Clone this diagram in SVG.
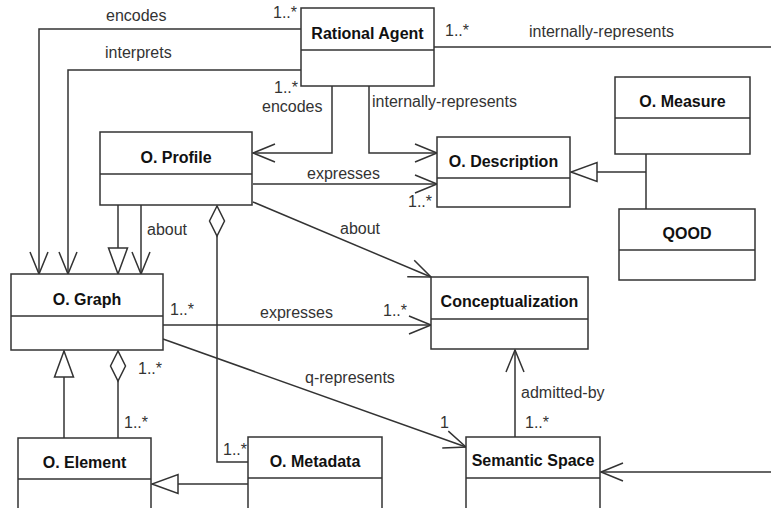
<svg xmlns="http://www.w3.org/2000/svg" width="771" height="508" viewBox="0 0 771 508">
<style>
.box{fill:#fff;stroke:#333;stroke-width:1.5}
.div{stroke:#333;stroke-width:1.5}
.title{font-family:"Liberation Sans",Arial,sans-serif;font-size:16px;font-weight:bold;fill:#111;text-anchor:middle}
.lbl{font-family:"Liberation Sans",Arial,sans-serif;font-size:16px;fill:#333}
.c{fill:none;stroke:#333;stroke-width:1.5}
</style>
<defs>
<marker id="open" viewBox="-24 -12 26 24" refX="0" refY="0" markerWidth="26" markerHeight="24" orient="auto" markerUnits="userSpaceOnUse">
<path d="M-22,-9 L0,0 L-22,9" fill="none" stroke="#333" stroke-width="1.5"/>
</marker>
<marker id="tri" viewBox="-28 -12 30 24" refX="0" refY="0" markerWidth="30" markerHeight="24" orient="auto" markerUnits="userSpaceOnUse">
<path d="M0,0 L-26,-9.5 L-26,9.5 Z" fill="#fff" stroke="#333" stroke-width="1.5"/>
</marker>
<marker id="dia" viewBox="-33 -10 35 20" refX="0" refY="0" markerWidth="35" markerHeight="20" orient="auto" markerUnits="userSpaceOnUse">
<path d="M0,0 L-15,-7.5 L-30,0 L-15,7.5 Z" fill="#fff" stroke="#333" stroke-width="1.5"/>
</marker>
</defs>
<rect width="771" height="508" fill="#fff"/>
<g id="connectors">
<path class="c" d="M301,29 L39,29 L39,274" marker-end="url(#open)"/>
<path class="c" d="M301,70 L68,70 L68,274" marker-end="url(#open)"/>
<path class="c" d="M332,86 L332,153 L253,153" marker-end="url(#open)"/>
<path class="c" d="M369,86 L369,153 L437,153" marker-end="url(#open)"/>
<path class="c" d="M434,47 L771,47"/>
<path class="c" d="M253,184 L437,184" marker-end="url(#open)"/>
<path class="c" d="M253,202 L431,277" marker-end="url(#open)"/>
<path class="c" d="M118,205 L118,274" marker-end="url(#tri)"/>
<path class="c" d="M141,205 L141,274" marker-end="url(#open)"/>
<path class="c" d="M248,462 L217,462 L217,206" marker-end="url(#dia)"/>
<path class="c" d="M646,154 L646,209"/>
<path class="c" d="M646,172 L571,172" marker-end="url(#tri)"/>
<path class="c" d="M163,325 L431,325" marker-end="url(#open)"/>
<path class="c" d="M163,339 L466,447" marker-end="url(#open)"/>
<path class="c" d="M515,437 L515,350" marker-end="url(#open)"/>
<path class="c" d="M771,472 L601,472" marker-end="url(#open)"/>
<path class="c" d="M64,438 L64,351" marker-end="url(#tri)"/>
<path class="c" d="M118,438 L118,351" marker-end="url(#dia)"/>
<path class="c" d="M248,484 L152,484" marker-end="url(#tri)"/>
<text class="lbl" x="106" y="21">encodes</text>
<text class="lbl" x="273" y="18">1..*</text>
<text class="lbl" x="105" y="58">interprets</text>
<text class="lbl" x="274" y="93">1..*</text>
<text class="lbl" x="262" y="112">encodes</text>
<text class="lbl" x="372" y="107">internally-represents</text>
<text class="lbl" x="445" y="36">1..*</text>
<text class="lbl" x="529" y="37">internally-represents</text>
<text class="lbl" x="307" y="179">expresses</text>
<text class="lbl" x="408" y="207">1..*</text>
<text class="lbl" x="147" y="235">about</text>
<text class="lbl" x="340" y="234">about</text>
<text class="lbl" x="170" y="315">1..*</text>
<text class="lbl" x="260" y="318">expresses</text>
<text class="lbl" x="383" y="316">1..*</text>
<text class="lbl" x="305" y="383">q-represents</text>
<text class="lbl" x="440" y="428">1</text>
<text class="lbl" x="521" y="398">admitted-by</text>
<text class="lbl" x="525" y="428">1..*</text>
<text class="lbl" x="138" y="374">1..*</text>
<text class="lbl" x="124" y="428">1..*</text>
<text class="lbl" x="223" y="455">1..*</text>
</g>
<g id="rational-agent">
<rect class="box" x="301" y="8" width="133" height="78"/>
<line class="div" x1="301" y1="50" x2="434" y2="50"/>
<text class="title" x="367.5" y="39">Rational Agent</text>
</g>
<g id="o-profile">
<rect class="box" x="100" y="132" width="152" height="73"/>
<line class="div" x1="100" y1="174" x2="252" y2="174"/>
<text class="title" x="176" y="163">O. Profile</text>
</g>
<g id="o-description">
<rect class="box" x="437" y="137" width="133" height="70"/>
<line class="div" x1="437" y1="178" x2="570" y2="178"/>
<text class="title" x="503.5" y="167">O. Description</text>
</g>
<g id="o-measure">
<rect class="box" x="615" y="77" width="135" height="77"/>
<line class="div" x1="615" y1="118" x2="750" y2="118"/>
<text class="title" x="682.5" y="107">O. Measure</text>
</g>
<g id="qood">
<rect class="box" x="619" y="209" width="136" height="71"/>
<line class="div" x1="619" y1="250" x2="755" y2="250"/>
<text class="title" x="687" y="239">QOOD</text>
</g>
<g id="o-graph">
<rect class="box" x="11" y="274" width="152" height="76"/>
<line class="div" x1="11" y1="316" x2="163" y2="316"/>
<text class="title" x="87" y="305">O. Graph</text>
</g>
<g id="conceptualization">
<rect class="box" x="431" y="277" width="157" height="72"/>
<line class="div" x1="431" y1="319" x2="588" y2="319"/>
<text class="title" x="509.5" y="307">Conceptualization</text>
</g>
<g id="o-element">
<rect class="box" x="18" y="438" width="133" height="80"/>
<line class="div" x1="18" y1="479" x2="151" y2="479"/>
<text class="title" x="84.5" y="468">O. Element</text>
</g>
<g id="o-metadata">
<rect class="box" x="248" y="437" width="134" height="80"/>
<line class="div" x1="248" y1="478" x2="382" y2="478"/>
<text class="title" x="315" y="467">O. Metadata</text>
</g>
<g id="semantic-space">
<rect class="box" x="466" y="437" width="134" height="80"/>
<line class="div" x1="466" y1="478" x2="600" y2="478"/>
<text class="title" x="533" y="466">Semantic Space</text>
</g>
</svg>
